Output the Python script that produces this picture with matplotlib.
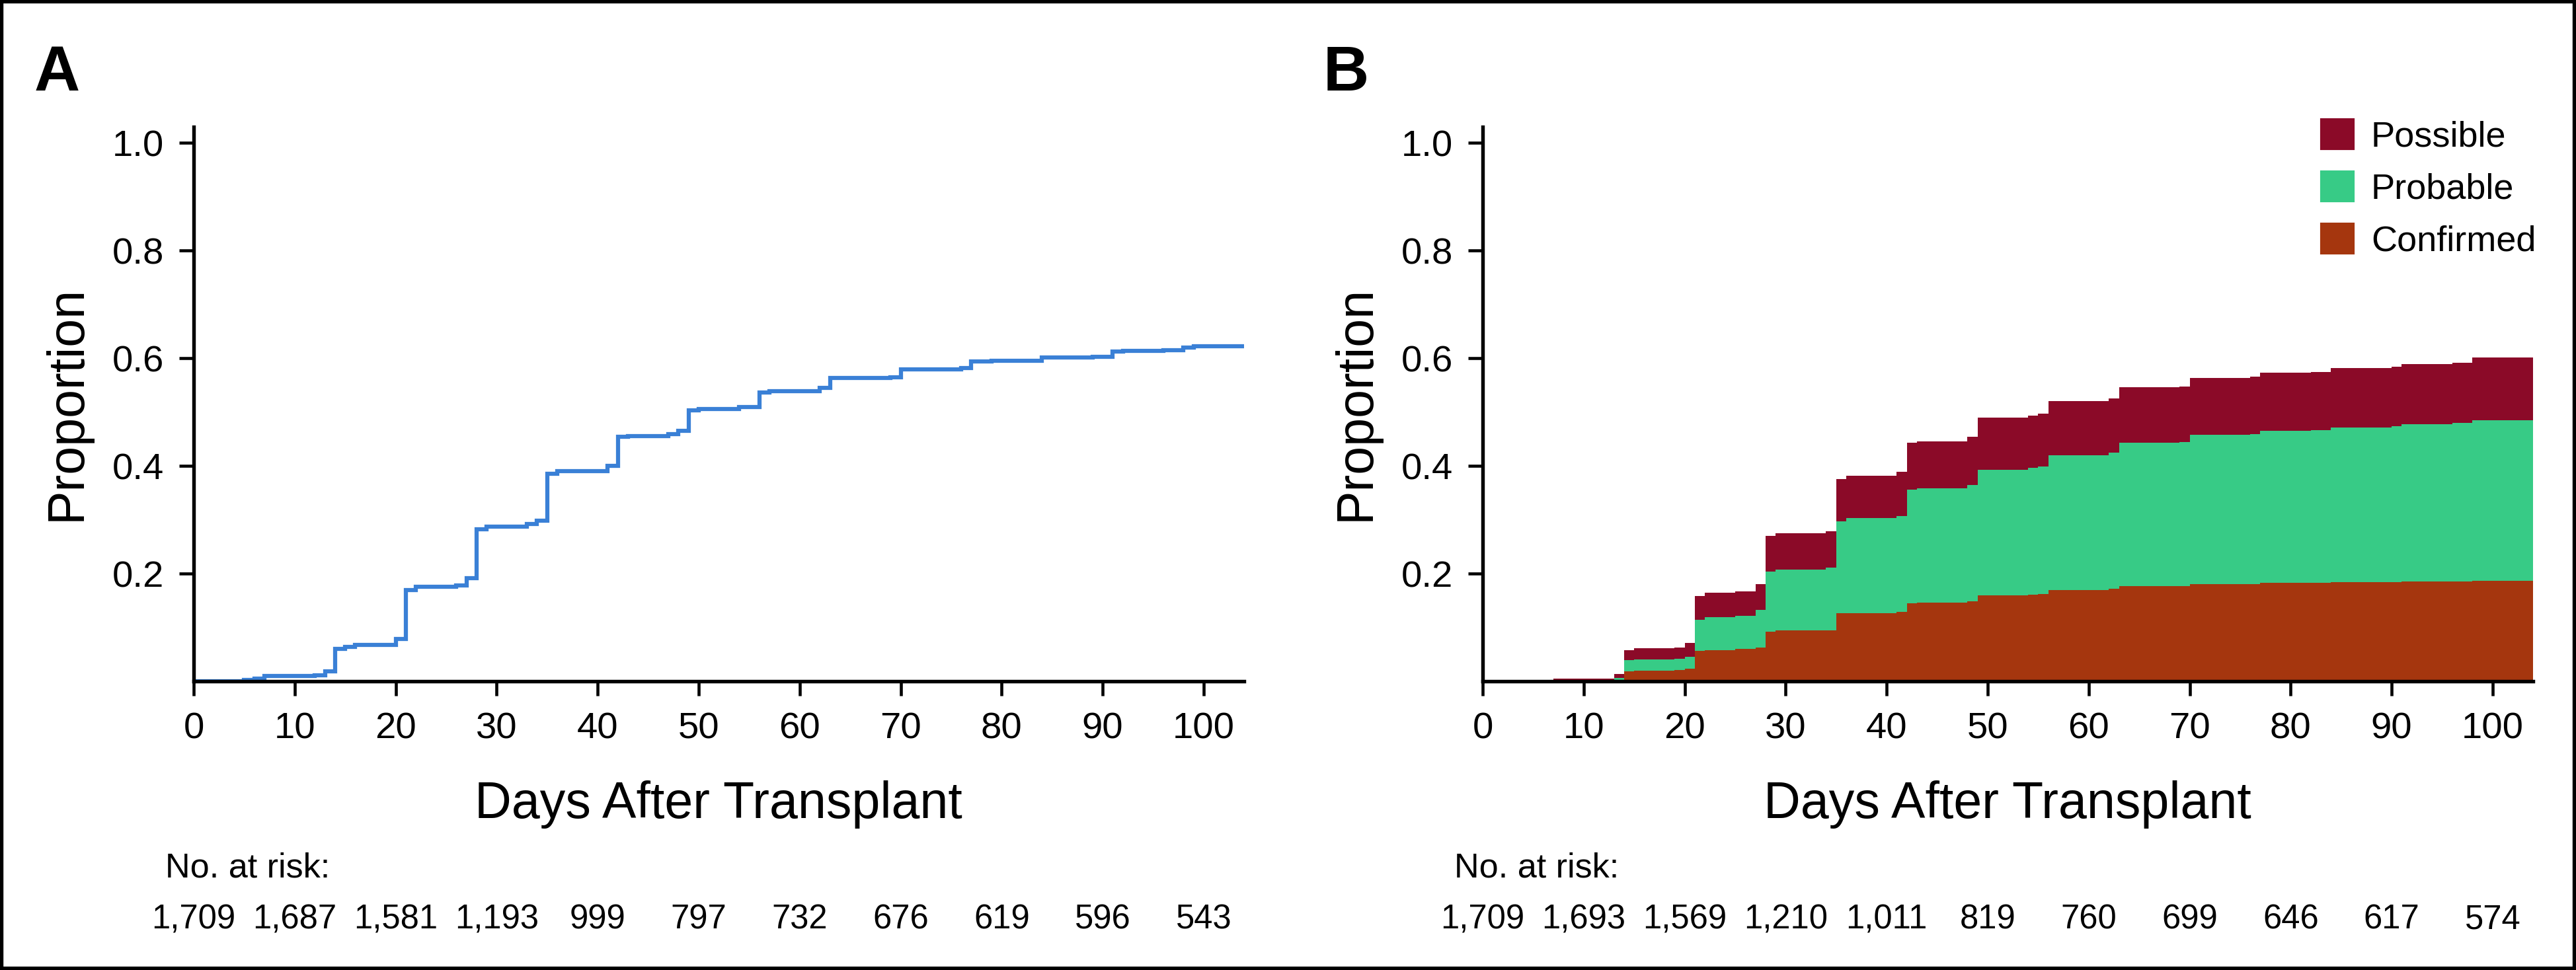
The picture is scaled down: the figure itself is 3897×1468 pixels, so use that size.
import numpy as np
import matplotlib
matplotlib.use("Agg")
import matplotlib.pyplot as plt
from matplotlib.patches import Patch, Rectangle
from matplotlib.transforms import blended_transform_factory

plt.rcParams["font.family"] = ["Liberation Sans", "DejaVu Sans"]

# Panel A: overall cumulative proportion (step curve)
days_a = [0, 5, 6, 7, 12, 13, 14, 15, 16, 20, 21, 22, 26, 27, 28, 29, 33, 34, 35, 36,
          41, 42, 43, 47, 48, 49, 50, 54, 56, 57, 62, 63, 69, 70, 71, 76, 77, 79, 84,
          89, 91, 92, 96, 98, 99]
prop_a = [0.0, 0.003, 0.005, 0.010, 0.011, 0.019, 0.060, 0.064, 0.067, 0.078, 0.170,
          0.176, 0.178, 0.191, 0.282, 0.287, 0.292, 0.298, 0.385, 0.391, 0.400, 0.454,
          0.456, 0.459, 0.465, 0.503, 0.506, 0.510, 0.537, 0.539, 0.545, 0.564, 0.565,
          0.579, 0.580, 0.582, 0.594, 0.595, 0.602, 0.603, 0.612, 0.614, 0.615, 0.620,
          0.622]

# Panel B: cumulative proportion by category
days_b = [0, 7, 13, 14, 15, 19, 20, 21, 22, 25, 27, 28, 29, 34, 35, 36, 41, 42, 43, 48,
          49, 54, 55, 56, 62, 63, 69, 70, 76, 77, 82, 84, 90, 91, 96, 98]
confirmed = [0.000, 0.002, 0.002, 0.019, 0.020, 0.021, 0.023, 0.056, 0.058, 0.060, 0.063,
             0.092, 0.094, 0.095, 0.126, 0.127, 0.129, 0.145, 0.146, 0.148, 0.160, 0.161,
             0.162, 0.170, 0.172, 0.177, 0.177, 0.181, 0.181, 0.183, 0.183, 0.184, 0.184,
             0.185, 0.185, 0.187]
probable = [0.001, 0.001, 0.004, 0.020, 0.021, 0.021, 0.023, 0.058, 0.061, 0.061, 0.070,
            0.112, 0.114, 0.116, 0.171, 0.176, 0.178, 0.211, 0.212, 0.216, 0.233, 0.236,
            0.237, 0.250, 0.253, 0.266, 0.267, 0.277, 0.278, 0.282, 0.283, 0.288, 0.290,
            0.293, 0.295, 0.298]
possible = [0.001, 0.002, 0.007, 0.019, 0.020, 0.021, 0.025, 0.044, 0.046, 0.046, 0.048,
            0.066, 0.067, 0.068, 0.079, 0.079, 0.082, 0.087, 0.088, 0.090, 0.097, 0.097,
            0.098, 0.100, 0.101, 0.103, 0.103, 0.106, 0.107, 0.108, 0.109, 0.110, 0.110,
            0.111, 0.112, 0.116]

categories = ["Confirmed", "Probable", "Possible"]
cat_colors = ["#a5360e", "#37cb86", "#8b0a28"]

x_ticks = list(range(0, 101, 10))
y_ticks = [0.2, 0.4, 0.6, 0.8, 1.0]
risk_a = ["1,709", "1,687", "1,581", "1,193", "999", "797", "732", "676", "619", "596", "543"]
risk_b = ["1,709", "1,693", "1,569", "1,210", "1,011", "819", "760", "699", "646", "617", "574"]

W, H = 3897, 1468
fig = plt.figure(figsize=(W / 300, H / 300), dpi=300)

x_end = 104
y_top = 1.03
ax_w = (1882 - 293) / W
ax_h = (1031 - 192) / H
ax_b = (H - 1031) / H
axA = fig.add_axes([293 / W, ax_b, ax_w, ax_h])
axB = fig.add_axes([2243 / W, ax_b, ax_w, ax_h])

# panel A curve
xa = np.array(days_a + [x_end])
ya = np.array(prop_a + [prop_a[-1]])
axA.step(xa, ya, where="post", color="#3a80d6", lw=1.5, solid_joinstyle="miter")

# panel B stacked steps
xb = np.array(days_b + [x_end])
bands = [np.array(v + [v[-1]]) for v in (confirmed, probable, possible)]
lower = np.zeros_like(xb, dtype=float)
for band, name, col in zip(bands, categories, cat_colors):
    upper = lower + band
    axB.fill_between(xb, lower, upper, step="post", color=col, lw=0, label=name)
    lower = upper

for ax, risk, dx in ((axA, risk_a, 0), (axB, risk_b, 1950)):
    ax.set_xlim(0, x_end)
    ax.set_ylim(0, y_top)
    ax.set_xticks(x_ticks)
    ax.set_yticks(y_ticks)
    ax.set_yticklabels([f"{v:.1f}" for v in y_ticks])
    for s in ("top", "right"):
        ax.spines[s].set_visible(False)
    for s in ("left", "bottom"):
        ax.spines[s].set_linewidth(1.3)
    ax.tick_params(axis="both", width=1.1, length=5.2, labelsize=13.5, color="black")
    ax.tick_params(axis="x", pad=6)
    ax.tick_params(axis="y", pad=5.5)

    # axis titles
    fig.text((293 + dx + 1588 / 2) / W, 1 - 1238 / H, "Days After Transplant",
             ha="center", va="baseline", fontsize=18.5)
    fig.text((122 + dx) / W, 1 - 610 / H, "Proportion", rotation=90,
             rotation_mode="anchor", ha="center", va="baseline", fontsize=18.5)

    # risk table
    tr = blended_transform_factory(ax.transData, fig.transFigure)
    ax.text(-2.8, 1 - 1327 / H, "No. at risk:", transform=tr, ha="left",
            va="baseline", fontsize=12.5, clip_on=False)
    for xt, lab in zip(x_ticks, risk):
        ax.text(xt, 1 - 1405 / H, lab, transform=tr, ha="center", va="baseline",
                fontsize=12.2, clip_on=False)

# panel letters
fig.text(86 / W, 1 - 137 / H, "A", ha="center", va="baseline", fontsize=23,
         fontweight="bold")
fig.text((86 + 1950) / W, 1 - 137 / H, "B", ha="center", va="baseline", fontsize=23,
         fontweight="bold")

# legend, possible on top
handles = [Patch(color=c, label=n) for n, c in zip(categories, cat_colors)][::-1]
fig.legend(handles=handles, loc="upper left", bbox_to_anchor=(3512 / W, 1 - 181 / H),
           frameon=False, fontsize=13, handlelength=0.88, handleheight=0.88,
           handletextpad=0.5, labelspacing=0.5, borderpad=0, borderaxespad=0)

# frame around the whole figure
fig.patches.append(Rectangle((0, 0), 1, 1, transform=fig.transFigure, fill=False,
                             lw=2.5, ec="black"))

fig.savefig("out.png", dpi=300)
